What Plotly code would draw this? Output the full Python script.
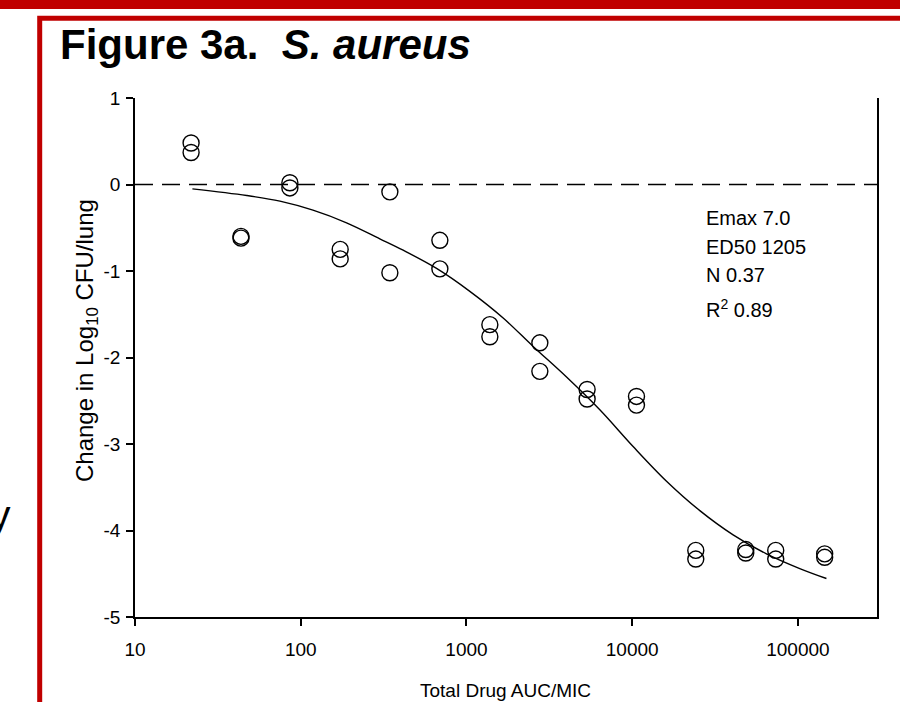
import numpy as np
import plotly.graph_objects as go

# ---- data ----
dose = [21.8, 21.8, 43.6, 43.6, 86, 86, 173, 173, 345, 345, 691, 691,
        1384, 1384, 2772, 2772, 5346, 5346, 10615, 10615,
        24190, 24190, 48440, 48440, 73450, 73450, 145000, 145000]
change = [0.48, 0.37, -0.60, -0.62, 0.02, -0.04, -0.75, -0.86, -0.085, -1.02, -0.645, -0.975,
          -1.62, -1.76, -1.83, -2.16, -2.37, -2.48, -2.45, -2.55,
          -4.23, -4.33, -4.22, -4.26, -4.23, -4.33, -4.27, -4.31]

fit_x = [22.2, 47.2, 74.9, 118.5, 189, 300, 415, 660, 1048, 1665, 2525, 4016,
         6377, 10130, 16110, 25590, 40640, 64570, 102600, 148600]
fit_y = [-0.05, -0.127, -0.193, -0.297, -0.443, -0.628, -0.76, -0.97, -1.235, -1.543,
         -1.872, -2.226, -2.604, -3.029, -3.43, -3.77, -4.05, -4.27, -4.44, -4.555]

x_tickvals = [10, 100, 1000, 10000, 100000]
x_ticktext = ["10", "100", "1000", "10000", "100000"]
y_tickvals = [1, 0, -1, -2, -3, -4, -5]
y_ticktext = ["1", "0", "-1", "-2", "-3", "-4", "-5"]

stats_lines = ["Emax 7.0", "ED50 1205", "N 0.37", "R<sup>2</sup> 0.89"]

# ---- layout geometry ----
W, H = 900, 702
L, R, T, B = 135, 23, 98, 85
PW, PH = W - L - R, H - T - B
FONT = "Arial, Liberation Sans, sans-serif"
RED = "#C00000"

def px(x):
    return (x - L) / PW

def py(y):
    return (H - B - y) / PH

fig = go.Figure()

fig.add_trace(go.Scatter(
    x=fit_x, y=fit_y, mode="lines", line=dict(color="black", width=1.4, shape="spline", smoothing=1.0),
    showlegend=False, hoverinfo="skip"))

fig.add_trace(go.Scatter(
    x=dose, y=change, mode="markers",
    marker=dict(symbol="circle-open", size=16, color="black", line=dict(width=1.4)),
    showlegend=False))

# zero reference line
fig.add_shape(type="line", xref="paper", yref="y", x0=0, x1=1, y0=0, y1=0,
              line=dict(color="black", width=1.3, dash="18px,9px"))

# red decorations
fig.add_shape(type="rect", xref="paper", yref="paper", x0=px(-5), x1=px(W + 5),
              y0=py(9), y1=py(-5), line=dict(width=0), fillcolor=RED, layer="above")
fig.add_shape(type="rect", xref="paper", yref="paper", x0=px(39.7), x1=px(W + 50),
              y0=py(H + 50), y1=py(18.2), line=dict(color=RED, width=5), layer="above")

ann = []
ann.append(dict(text="<b>Figure 3a.&nbsp; <i>S. aureus</i></b>", x=px(58), y=py(45),
                xanchor="left", yanchor="middle", font=dict(size=42, color="black", family=FONT)))
ann.append(dict(text="y", x=px(13), y=py(515), xanchor="right", yanchor="middle",
                font=dict(size=41, color="black", family=FONT)))
ann.append(dict(text="Change in Log<sub>10</sub> CFU/lung", x=px(86), y=py(341), textangle=-90,
                xanchor="center", yanchor="middle", font=dict(size=24, color="black", family=FONT)))
ann.append(dict(text="Total Drug AUC/MIC", x=px(505), y=py(690), xanchor="center", yanchor="middle",
                font=dict(size=19, color="black", family=FONT)))
for txt, yy in zip(stats_lines, [218, 247, 275, 308]):
    ann.append(dict(text=txt, x=px(704), y=py(yy), xanchor="left", yanchor="middle",
                    font=dict(size=20, color="black", family=FONT)))
for a in ann:
    a.update(xref="paper", yref="paper", showarrow=False)

fig.update_layout(
    width=W, height=H, margin=dict(l=L, r=R, t=T, b=B),
    paper_bgcolor="white", plot_bgcolor="white",
    font=dict(family=FONT, size=19, color="black"),
    annotations=ann,
    xaxis=dict(type="log", range=[1, np.log10(3e5)], tickvals=x_tickvals, ticktext=x_ticktext,
               showline=True, linecolor="black", linewidth=1.5, mirror=False,
               ticks="outside", ticklen=7, tickwidth=1.5, tickcolor="black",
               ticklabelstandoff=7,
               showgrid=False, zeroline=False),
    yaxis=dict(range=[-5, 1], tickvals=y_tickvals, ticktext=y_ticktext,
               showline=True, linecolor="black", linewidth=1.5, mirror=True,
               ticks="outside", ticklen=7, tickwidth=1.5, tickcolor="black",
               ticklabelstandoff=2,
               tickfont=dict(size=19),
               showgrid=False, zeroline=False),
)

fig.write_html("out.html", config={"displayModeBar": False},
               post_script="document.body.style.margin='0';document.body.style.overflow='hidden';")
